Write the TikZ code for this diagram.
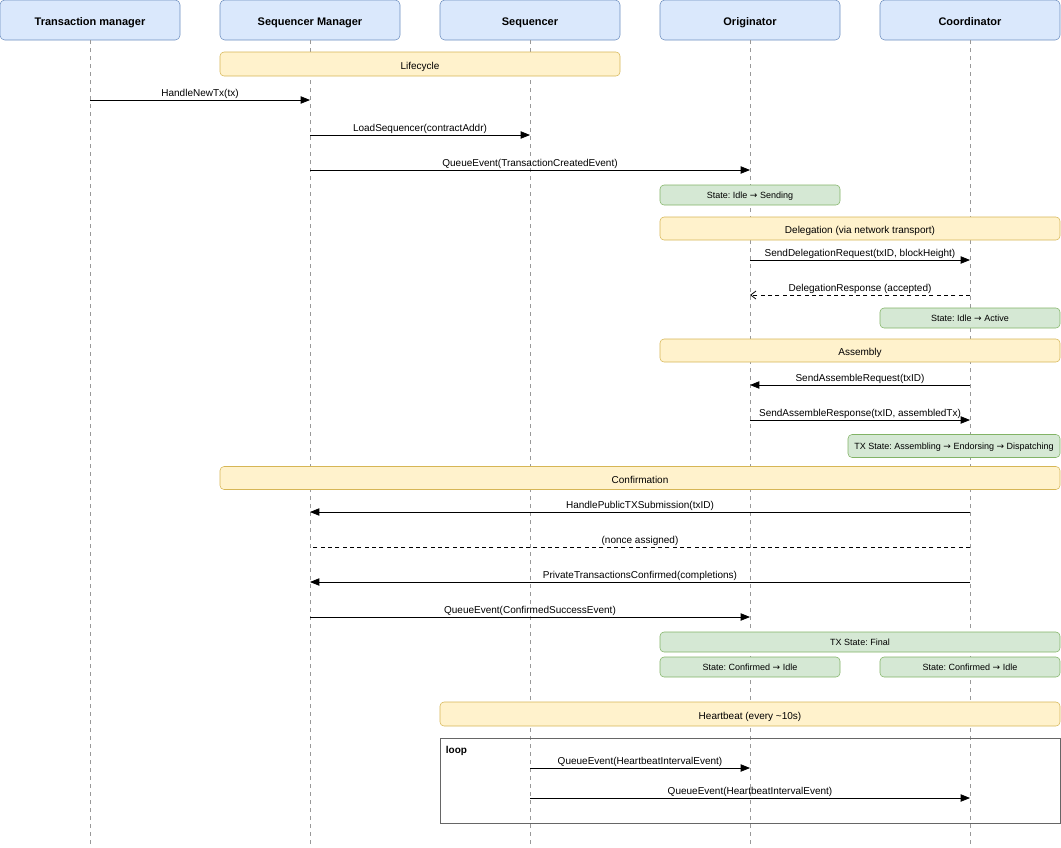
\documentclass[tikz,border=0pt]{standalone}
\usepackage{fontspec}
\setmainfont{Liberation Sans}
\newfontfamily\symfont{DejaVu Sans}
\newcommand{\arr}{{\symfont →}}
\frenchspacing
\usetikzlibrary{arrows.meta}
\definecolor{hdrfill}{HTML}{DAE8FC}
\definecolor{hdrdraw}{HTML}{6C8EBF}
\definecolor{yfill}{HTML}{FFF2CC}
\definecolor{ydraw}{HTML}{D6B656}
\definecolor{gfill}{HTML}{D5E8D4}
\definecolor{gdraw}{HTML}{82B366}
\definecolor{lifegray}{HTML}{999999}
\definecolor{framegray}{HTML}{666666}
\tikzset{
  hdr/.style={draw=hdrdraw, fill=hdrfill, rounded corners=3.5pt, inner sep=0pt, text depth=0pt, text height=8.2pt, font=\fontsize{8.25}{9}\selectfont\bfseries},
  phase/.style={draw=ydraw, fill=yfill, rounded corners=3pt, inner sep=0pt, text depth=0pt, text height=8.2pt, font=\fontsize{7.5}{9}\selectfont},
  state/.style={draw=gdraw, fill=gfill, rounded corners=3pt, inner sep=0pt, text depth=0pt, text height=5.8pt, font=\fontsize{6.75}{8}\selectfont},
  lifeline/.style={draw=lifegray, dash pattern=on 3pt off 3pt, line width=0.5pt},
  msg/.style={draw=black, line width=0.6pt, -{Triangle[length=7pt,width=5.5pt]}},
  reply/.style={draw=black, line width=0.6pt, dash pattern=on 3pt off 2.5pt, -{Straight Barb[length=4pt,width=6pt]}},
  plaindash/.style={draw=black, line width=0.6pt, dash pattern=on 3pt off 2.5pt},
  lbl/.style={font=\fontsize{7.5}{9}\selectfont, inner sep=0.6pt, above},
  frame/.style={draw=framegray, line width=0.6pt}
}
\begin{document}
\begin{tikzpicture}[x=0.75pt, y=-0.75pt]
\useasboundingbox (0,0) rectangle (1061,847);
% headers
\node[hdr, minimum width=180*0.75pt, minimum height=40*0.75pt] (tm) at (90,20) {Transaction manager};
\node[hdr, minimum width=180*0.75pt, minimum height=40*0.75pt] (sm) at (310,20) {Sequencer Manager};
\node[hdr, minimum width=180*0.75pt, minimum height=40*0.75pt] (sq) at (530,20) {Sequencer};
\node[hdr, minimum width=180*0.75pt, minimum height=40*0.75pt] (or) at (750,20) {Originator};
\node[hdr, minimum width=180*0.75pt, minimum height=40*0.75pt] (co) at (970,20) {Coordinator};
% lifelines
\coordinate (bot) at (0,847);
\foreach \n in {tm,sm,sq,or,co} {
  \coordinate (\n-end) at (\n.south |- bot);
  \draw[lifeline] (\n.south) -- (\n-end);
}
% phase / state boxes
\node[phase, minimum width=400*0.75pt, minimum height=24*0.75pt] (p1) at (420,64) {Lifecycle};
\node[state, minimum width=180*0.75pt, minimum height=20*0.75pt] (s1) at (750,195) {State: Idle \arr\ Sending};
\node[phase, minimum width=400*0.75pt, minimum height=23*0.75pt] (p2) at (860,228.5) {Delegation (via network transport)};
\node[state, minimum width=180*0.75pt, minimum height=20*0.75pt] (s2) at (970,318) {State: Idle \arr\ Active};
\node[phase, minimum width=400*0.75pt, minimum height=23*0.75pt] (p3) at (860,350.5) {Assembly};
\node[state, minimum width=212*0.75pt, minimum height=23*0.75pt] (s3) at (954,446) {TX State: Assembling \arr\ Endorsing \arr\ Dispatching};
\node[phase, minimum width=840*0.75pt, minimum height=23*0.75pt] (p4) at (640,478) {Confirmation};
\node[state, minimum width=400*0.75pt, minimum height=20*0.75pt] (s4) at (860,642) {TX State: Final};
\node[state, minimum width=180*0.75pt, minimum height=20*0.75pt] (s5) at (750,667) {State: Confirmed \arr\ Idle};
\node[state, minimum width=180*0.75pt, minimum height=20*0.75pt] (s6) at (970,667) {State: Confirmed \arr\ Idle};
\node[phase, minimum width=620*0.75pt, minimum height=24*0.75pt] (p5) at (750,714) {Heartbeat (every \textasciitilde10s)};
% loop frame
\node[frame, minimum width=620*0.75pt, minimum height=85*0.75pt, inner sep=0pt] (loopf) at (750,780.5) {};
\node[anchor=north west, inner sep=0pt, font=\fontsize{7.5}{9}\selectfont\bfseries] (looplbl) at ([xshift=6*0.75pt, yshift=-8*0.75pt]loopf.north west) {loop};
% message anchor rows
\foreach \nm/\yy in {a/100,b/135,c/170,d/260,e/295,f/385,g/420,h/512,i/547,j/582,k/617,l/768,m/798} {
  \coordinate (y\nm) at (0,\yy);
}
\draw[msg] (tm.south |- ya) -- node[lbl] {HandleNewTx(tx)} (sm.south |- ya);
\draw[msg] (sm.south |- yb) -- node[lbl] {LoadSequencer(contractAddr)} (sq.south |- yb);
\draw[msg] (sm.south |- yc) -- node[lbl] {QueueEvent(TransactionCreatedEvent)} (or.south |- yc);
\draw[msg] (or.south |- yd) -- node[lbl] {SendDelegationRequest(txID, blockHeight)} (co.south |- yd);
\draw[reply] (co.south |- ye) -- node[lbl] {DelegationResponse (accepted)} (or.south |- ye);
\draw[msg] (co.south |- yf) -- node[lbl] {SendAssembleRequest(txID)} (or.south |- yf);
\draw[msg] (or.south |- yg) -- node[lbl] {SendAssembleResponse(txID, assembledTx)} (co.south |- yg);
\draw[msg] (co.south |- yh) -- node[lbl] {HandlePublicTXSubmission(txID)} (sm.south |- yh);
\draw[plaindash] (co.south |- yi) -- node[lbl] {(nonce assigned)} (sm.south |- yi);
\draw[msg] (co.south |- yj) -- node[lbl] {PrivateTransactionsConfirmed(completions)} (sm.south |- yj);
\draw[msg] (sm.south |- yk) -- node[lbl] {QueueEvent(ConfirmedSuccessEvent)} (or.south |- yk);
\draw[msg] (sq.south |- yl) -- node[lbl] {QueueEvent(HeartbeatIntervalEvent)} (or.south |- yl);
\draw[msg] (sq.south |- ym) -- node[lbl] {QueueEvent(HeartbeatIntervalEvent)} (co.south |- ym);
\end{tikzpicture}
\end{document}
